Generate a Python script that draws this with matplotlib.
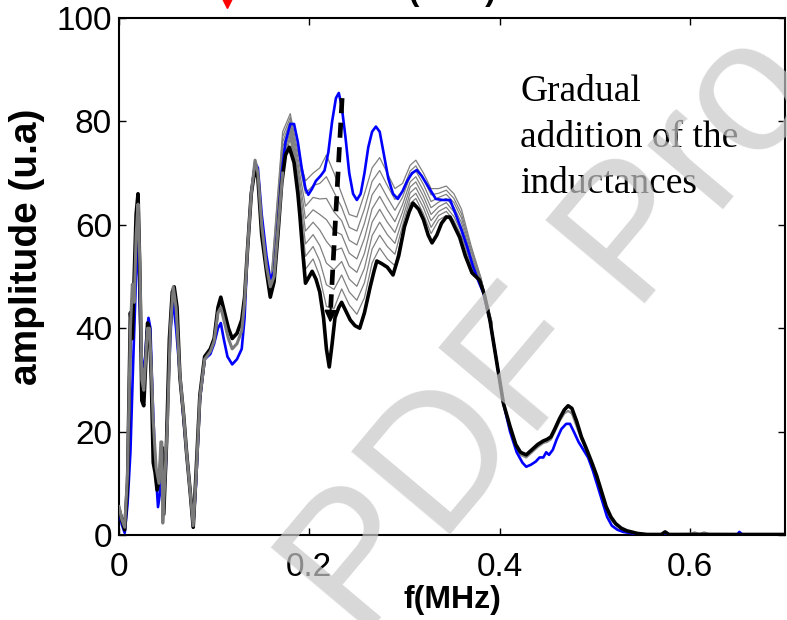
import matplotlib
matplotlib.use("Agg")
import matplotlib.pyplot as plt
from matplotlib.lines import Line2D

# ---------------- data ----------------
blue_f = [0.000, 0.003, 0.006, 0.009, 0.012, 0.015, 0.017, 0.019, 0.021, 0.023, 0.025, 0.027, 0.029, 0.031,
          0.033, 0.035, 0.038, 0.041, 0.043, 0.045, 0.047, 0.049, 0.052, 0.055, 0.057, 0.060, 0.064, 0.068,
          0.071, 0.075, 0.078, 0.081, 0.085, 0.090, 0.096, 0.100, 0.104, 0.107, 0.110, 0.114, 0.119, 0.124,
          0.129, 0.132, 0.135, 0.139, 0.143, 0.146, 0.150, 0.155, 0.159, 0.163, 0.167, 0.171, 0.175, 0.180,
          0.184, 0.188, 0.192, 0.196, 0.199, 0.203, 0.207, 0.212, 0.216, 0.220, 0.224, 0.228, 0.231, 0.234,
          0.238, 0.242, 0.246, 0.250, 0.254, 0.258, 0.262, 0.266, 0.270, 0.274, 0.278, 0.283, 0.288, 0.293,
          0.298, 0.303, 0.308, 0.313, 0.318, 0.323, 0.328, 0.333, 0.340, 0.348, 0.354, 0.360, 0.366, 0.372,
          0.378, 0.383, 0.390, 0.397, 0.404, 0.411, 0.418, 0.424, 0.428, 0.433, 0.438, 0.442, 0.446, 0.449,
          0.452, 0.456, 0.460, 0.465, 0.470, 0.474, 0.478, 0.483, 0.488, 0.493, 0.498, 0.503, 0.508, 0.513,
          0.518, 0.524, 0.530, 0.540, 0.550, 0.560, 0.600, 0.650, 0.652, 0.655, 0.700]
blue_a = [4.5, 2, 0.4, 6, 16, 34, 45, 57, 50, 36, 32.5, 33, 39, 42,
          40, 28, 14, 5.4, 8, 17, 8, 12, 30, 42, 45, 40, 31, 22,
          16, 8, 1.5, 10, 26, 34, 35, 37, 40, 41, 38, 34.5, 33, 34,
          36, 42, 55, 66, 72, 71, 62, 54, 49.5, 51, 60, 70, 76, 79.5,
          79.5, 76, 71, 67, 65.8, 67, 68.5, 69.5, 70.5, 74, 80, 84.5, 85.5, 83,
          77, 70, 66, 64.8, 66, 70, 75, 78, 79, 78, 74, 69, 66, 65,
          66.5, 68.5, 70, 70.6, 69.5, 68, 66.5, 65, 64.8, 64.8, 62, 59, 55.7, 52,
          49, 46.8, 41.4, 33.5, 25.5, 20, 16, 14, 13.2, 13.6, 14.2, 15, 15, 16,
          15.5, 16.5, 18.5, 20.5, 21.5, 21.5, 20, 18, 16.5, 15, 12.5, 9.5, 6.5, 3.5,
          1.8, 1.0, 0.6, 0.3, 0.1, 0.0, 0.1, 0.1, 0.6, 0.1, 0.1]

black_f = [0.000, 0.003, 0.006, 0.009, 0.012, 0.014, 0.016, 0.018, 0.020, 0.022, 0.024, 0.026, 0.028, 0.030,
           0.032, 0.034, 0.036, 0.038, 0.040, 0.043, 0.045, 0.047, 0.050, 0.053, 0.056, 0.058, 0.061, 0.064,
           0.068, 0.071, 0.075, 0.078, 0.081, 0.085, 0.090, 0.096, 0.100, 0.104, 0.107, 0.111, 0.115, 0.119,
           0.124, 0.129, 0.132, 0.135, 0.139, 0.143, 0.146, 0.150, 0.155, 0.159, 0.163, 0.167, 0.171, 0.175,
           0.179, 0.184, 0.188, 0.190, 0.193, 0.196, 0.200, 0.203, 0.207, 0.211, 0.215, 0.218, 0.221, 0.224,
           0.227, 0.231, 0.234, 0.238, 0.243, 0.248, 0.253, 0.258, 0.264, 0.268, 0.271, 0.276, 0.282, 0.288,
           0.294, 0.300, 0.305, 0.309, 0.315, 0.320, 0.325, 0.329, 0.334, 0.339, 0.344, 0.348, 0.353, 0.358,
           0.364, 0.371, 0.379, 0.384, 0.390, 0.397, 0.404, 0.411, 0.417, 0.422, 0.428, 0.434, 0.440, 0.446,
           0.450, 0.454, 0.458, 0.463, 0.468, 0.472, 0.476, 0.481, 0.486, 0.491, 0.497, 0.502, 0.507, 0.512,
           0.517, 0.522, 0.528, 0.534, 0.545, 0.555, 0.570, 0.574, 0.578, 0.700]
black_a = [5, 3, 1, 10, 43, 38, 50, 62, 66, 50, 26, 25, 33, 41,
           40, 30, 14, 12, 8.7, 12, 17, 4, 18, 38, 47, 48, 44, 30.6,
           23, 16, 8, 1.5, 12, 27, 34.5, 36, 38, 44, 46, 43, 40, 38,
           39, 41.6, 46, 55, 66, 71, 69, 58, 51, 46, 49, 58, 68, 73.5,
           75, 72, 66, 62, 55, 48.7, 50, 51, 49.5, 47, 42, 36, 32.5, 37,
           42, 44, 45, 43.5, 41.6, 40.5, 40, 43, 48, 51, 53, 52.5, 51.8, 50.3,
           54, 59.6, 62.5, 64.2, 63, 61, 58, 56.5, 58, 60.3, 61.5, 61.5, 59.5, 57.6,
           54, 50.7, 49.3, 46.5, 41.4, 33.5, 25.5, 21, 17.5, 16, 15.5, 16.5, 17.5, 18.2,
           18.5, 19, 20.5, 22.5, 24.2, 25, 24.5, 22, 19, 16.8, 14, 11.5, 8.5, 5.5,
           3.5, 2.2, 1.3, 0.8, 0.3, 0.1, 0.1, 0.6, 0.1, 0.1]

gray_low_f = [0.000, 0.003, 0.006, 0.009, 0.012, 0.014, 0.016, 0.018, 0.020, 0.022, 0.024, 0.026, 0.028, 0.030,
              0.032, 0.034, 0.036, 0.039, 0.042, 0.044, 0.045, 0.046, 0.048, 0.051, 0.054, 0.057, 0.060, 0.064,
              0.068, 0.071, 0.075, 0.078, 0.081, 0.085, 0.090, 0.096, 0.100, 0.104, 0.107, 0.111, 0.115, 0.119,
              0.124, 0.129, 0.132, 0.135, 0.139, 0.143, 0.146, 0.150, 0.155, 0.159, 0.163, 0.167, 0.172]
gray_low_a = [5.5, 3, 1.5, 12, 40, 48.5, 45, 58, 64, 52, 30, 28, 34, 40,
              40, 32, 22, 13, 10, 18, 18, 2.3, 10, 22, 40, 48, 44, 31,
              23, 16, 8, 1.8, 11, 26.5, 34, 35.5, 37.5, 43, 44, 41, 38, 36,
              37, 39.5, 45, 55, 66, 72.5, 70, 60, 52, 48, 50, 59, 70]

gray_high_f = [0.380, 0.384, 0.390, 0.397, 0.404, 0.411, 0.417, 0.422, 0.428, 0.434, 0.440, 0.446, 0.450, 0.454,
               0.458, 0.463, 0.468, 0.472, 0.476, 0.481, 0.486, 0.491, 0.497, 0.502, 0.507, 0.512, 0.517, 0.522,
               0.528, 0.534, 0.545, 0.555, 0.600, 0.605, 0.610, 0.615, 0.620, 0.700]
gray_high_a = [49.5, 46.5, 41.4, 33.5, 25.5, 20.5, 17, 15.5, 15, 16, 17, 17.8, 18, 18.5,
               20, 22, 23.5, 24, 23.5, 21, 18.5, 16.5, 13.5, 11, 8, 5, 3, 2,
               1.2, 0.7, 0.3, 0.1, 0.2, 0.5, 0.2, 0.5, 0.2, 0.1]

gray_f = [0.160, 0.172, 0.180, 0.188, 0.196, 0.204, 0.211, 0.218, 0.226, 0.234, 0.242, 0.250, 0.258, 0.266,
          0.274, 0.282, 0.290, 0.298, 0.306, 0.312, 0.320, 0.328, 0.336, 0.344, 0.352, 0.360, 0.370, 0.380, 0.392]
gray_1 = [46.5, 71, 76.7, 67, 51.4, 53.4, 50, 44.2, 43.8, 47.6, 44.5, 42.7, 45.9, 52.6, 55.5, 53.4, 52.1, 58.4, 64.1, 65.1, 62.1, 58.3, 60.9, 61.8, 59.9, 56.9, 51.6, 49.1, 40.5]
gray_2 = [47, 72, 77.4, 68, 53.9, 55.8, 53, 48.4, 47.5, 50.3, 47, 45.4, 48.8, 55.3, 58, 55.8, 54.3, 59.8, 65.1, 66.1, 63.3, 59.5, 61.8, 62.6, 60.8, 57.8, 52.3, 49.3, 40.6]
gray_3 = [47.5, 73, 78.1, 69, 56.3, 58.1, 56, 52.6, 51.3, 52.9, 49.5, 48.1, 51.6, 57.9, 60.5, 58.1, 56.4, 61.1, 66.2, 67.2, 64.4, 60.8, 62.6, 63.4, 61.6, 58.6, 52.9, 49.4, 40.7]
gray_4 = [48, 74, 78.8, 70, 58.8, 60.5, 59, 56.8, 55, 55.5, 52, 50.8, 54.5, 60.5, 63, 60.5, 58.5, 62.5, 67.3, 68.3, 65.5, 62, 63.5, 64.3, 62.5, 59.5, 53.5, 49.5, 40.8]
gray_5 = [48.5, 75, 79.4, 71, 61.2, 62.9, 62, 61, 58.8, 58.1, 54.5, 53.4, 57.4, 63.1, 65.5, 62.9, 60.6, 63.9, 68.3, 69.3, 66.6, 63.3, 64.4, 65.1, 63.4, 60.4, 54.1, 49.6, 40.9]
gray_6 = [49, 76, 80.1, 72, 63.6, 65.3, 65, 65.1, 62.5, 60.8, 57, 56.1, 60.3, 65.8, 68, 65.3, 62.8, 65.3, 69.4, 70.4, 67.8, 64.5, 65.3, 65.9, 64.3, 61.3, 54.8, 49.8, 41]
gray_7 = [49.5, 77, 80.8, 73, 66.1, 67.6, 68, 69.3, 66.3, 63.4, 59.5, 58.8, 63.1, 68.4, 70.5, 67.6, 64.9, 66.6, 70.4, 71.4, 68.9, 65.8, 66.1, 66.7, 65.1, 62.1, 55.4, 49.9, 41.1]
gray_8 = [50, 78, 81.5, 74, 68.5, 70, 71, 73.5, 70, 66, 62, 61.5, 66, 71, 73, 70, 67, 68, 71.5, 72.5, 70, 67, 67, 67.5, 66, 63, 56, 50, 41.2]
gray_curves = [gray_1, gray_2, gray_3, gray_4, gray_5, gray_6, gray_7, gray_8]

arrow_f = [0.2345, 0.2225]
arrow_a = [84.5, 44]

x_ticks = [0, 0.2, 0.4, 0.6]
x_labels = ["0", "0.2", "0.4", "0.6"]
y_ticks = [0, 20, 40, 60, 80, 100]
y_labels = ["0", "20", "40", "60", "80", "100"]

# ---------------- plot ----------------
plt.rcParams['font.family'] = ['Liberation Sans', 'DejaVu Sans']
fig = plt.figure(figsize=(7.87, 6.2), dpi=100)
ax = fig.add_axes([119/787, 85/620, 666/787, 517/620])

for g in gray_curves:
    ax.plot(gray_f, g, color='#808080', lw=0.9, zorder=2)
ax.plot(gray_high_f, gray_high_a, color='#8a8a8a', lw=1.6, zorder=2)
ax.plot(blue_f, blue_a, color='#0000ff', lw=1.9, zorder=3)
ax.plot(black_f, black_a, color='black', lw=2.6, zorder=4)
ax.plot(gray_low_f, gray_low_a, color='#7a7a7a', lw=2.2, zorder=5)

ax.plot(arrow_f, arrow_a, color='black', lw=3.4, dashes=(3.2, 2.0), zorder=6, solid_capstyle='butt')
ax.annotate('', xy=(0.2218, 40.5), xytext=(0.2226, 44.5),
            arrowprops=dict(arrowstyle='-|>,head_width=0.35,head_length=0.7', color='black', lw=1.5),
            zorder=6)

ax.text(0.4215, 89.0, "Gradual\naddition of the\ninductances", family='Liberation Serif',
        fontsize=27, ha='left', va='top', linespacing=1.43, zorder=7)

ax.set_xlim(0, 0.7)
ax.set_ylim(0, 100)
ax.set_xticks(x_ticks)
ax.set_xticklabels(x_labels)
ax.set_yticks(y_ticks)
ax.set_yticklabels(y_labels)
ax.tick_params(axis='both', direction='in', length=5, width=1, labelsize=24, top=True, right=True)
ax.tick_params(axis='x', pad=12)
ax.tick_params(axis='y', pad=5)
for s in ax.spines.values():
    s.set_linewidth(1.5)
ax.set_xlabel("f(MHz)", fontsize=23, fontweight='bold', labelpad=2)
ax.set_ylabel("amplitude (u.a)", fontsize=28, fontweight='bold')
ax.yaxis.set_label_coords(-0.111, 0.557)

# remnants of the previous figure at the top edge
fig.text(0.568, 0.9995, "f(MHz)", fontsize=23, fontweight='bold', ha='center', va='baseline')
fig.add_artist(Line2D([227/787], [1 - 1/620], marker='v', color='red', markersize=10,
                      transform=fig.transFigure))

# watermark
fig.text(360/787, -22/620, "PDF Pro", fontsize=135, color='#c8c8c8', alpha=0.7,
         rotation=50, rotation_mode='anchor', ha='left', va='baseline', zorder=20)

fig.savefig("out.png", dpi=100)
